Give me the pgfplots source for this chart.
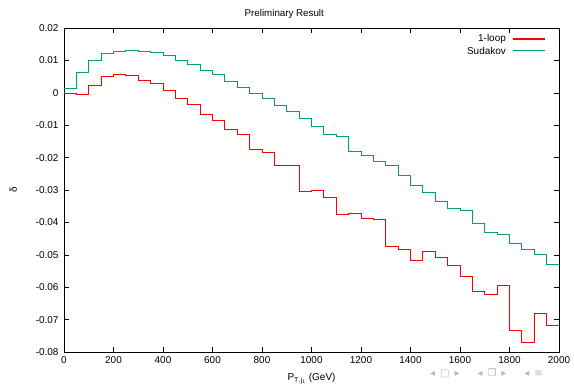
\documentclass[border=0pt]{standalone}
\usepackage{pgfplots}
\pgfplotsset{compat=1.18}
\usepackage{fontspec}
\setmainfont{Liberation Sans}
\newfontfamily\symfont{DejaVu Sans}
\definecolor{gpred}{RGB}{255,0,0}
\definecolor{gpgreen}{RGB}{0,158,115}
\begin{document}
\begin{tikzpicture}
\path[use as bounding box] (-64bp,-33bp) rectangle (510bp,352bp);
\begin{axis}[
  at={(0,0)}, anchor=south west,
  scale only axis, width=495bp, height=324bp,
  xmin=0, xmax=2000, ymin=-0.08, ymax=0.02,
  xtick={0,200,...,2000},
  ytick={-0.08,-0.07,-0.06,-0.05,-0.04,-0.03,-0.02,-0.01,0,0.01,0.02},
  yticklabels={-0.08,-0.07,-0.06,-0.05,-0.04,-0.03,-0.02,-0.01,0,0.01,0.02},
  xticklabels={0,200,400,600,800,1000,1200,1400,1600,1800,2000},
  scaled y ticks=false,
  tick align=inside, major tick length=5bp,
  tick style={black, line width=0.6pt},
  axis line style={black, line width=0.8pt},
  ticklabel style={font=\fontsize{10}{11}\selectfont},
  xticklabel style={yshift=-1bp},
  yticklabel style={xshift=-2bp},
  title={Preliminary Result},
  title style={font=\fontsize{9.8}{11}\selectfont, at={(0.445,1)}, yshift=0bp},
  xlabel={P$_{\mathrm{T,j_1}}$ (GeV)},
  xlabel style={font=\fontsize{10}{11}\selectfont, yshift=-3bp},
  ylabel={δ},
  ylabel style={font=\fontsize{10}{11}\selectfont, yshift=12bp},
  clip=false,
]
\addplot[const plot mark left, color=gpred, line width=1pt, mark=none] coordinates {
(0,-0.0002) (50,-0.0006) (100,0.0022) (150,0.0050) (200,0.0057) (250,0.0052)
(300,0.0039) (350,0.0029) (400,0.0007) (450,-0.0017) (500,-0.0037) (550,-0.0068)
(600,-0.0085) (650,-0.0112) (700,-0.0128) (750,-0.0175) (800,-0.0184) (850,-0.0224)
(900,-0.0223) (950,-0.0304) (1000,-0.0300) (1050,-0.0323) (1100,-0.0377) (1150,-0.0373)
(1200,-0.0389) (1250,-0.0392) (1300,-0.0474) (1350,-0.0484) (1400,-0.0518) (1450,-0.0490)
(1500,-0.0509) (1550,-0.0534) (1600,-0.0568) (1650,-0.0614) (1700,-0.0623) (1750,-0.0595)
(1800,-0.0733) (1850,-0.0772) (1900,-0.0680) (1950,-0.0718) (2000,-0.0718)
};
\addplot[const plot mark left, color=gpgreen, line width=1pt, mark=none] coordinates {
(0,0.0012) (50,0.0062) (100,0.0101) (150,0.0122) (200,0.0127) (250,0.0130)
(300,0.0128) (350,0.0123) (400,0.0114) (450,0.0099) (500,0.0088) (550,0.0070)
(600,0.0058) (650,0.0036) (700,0.0017) (750,-0.0002) (800,-0.0019) (850,-0.0040)
(900,-0.0057) (950,-0.0079) (1000,-0.0105) (1050,-0.0128) (1100,-0.0136) (1150,-0.0180)
(1200,-0.0195) (1250,-0.0212) (1300,-0.0224) (1350,-0.0256) (1400,-0.0286) (1450,-0.0307)
(1500,-0.0335) (1550,-0.0356) (1600,-0.0364) (1650,-0.0402) (1700,-0.0430) (1750,-0.0437)
(1800,-0.0465) (1850,-0.0483) (1900,-0.0498) (1950,-0.0529) (2000,-0.0529)
};
% legend sample lines (gnuplot style: text left of sample line)
\addplot[color=gpred, line width=1.2pt, mark=none] coordinates {(1814,0.0166) (1944,0.0166)};
\addplot[color=gpgreen, line width=1.2pt, mark=none] coordinates {(1814,0.0130) (1944,0.0130)};
\node[anchor=east, inner sep=0pt, font=\fontsize{10}{11}\selectfont] at (rel axis cs:0.893,0.966) {1-loop};
\node[anchor=east, inner sep=0pt, font=\fontsize{10}{11}\selectfont] at (rel axis cs:0.893,0.930) {Sudakov};
\end{axis}
\node[anchor=east, text=black!28, font=\symfont\fontsize{10}{11}\selectfont, inner sep=0pt] at (479bp,-21bp) {◂\hspace{5bp}□\hspace{5bp}▸\hspace{18bp}◂\hspace{5bp}❐\hspace{5bp}▸\hspace{18bp}◂\hspace{5bp}≡};
\end{tikzpicture}
\end{document}
